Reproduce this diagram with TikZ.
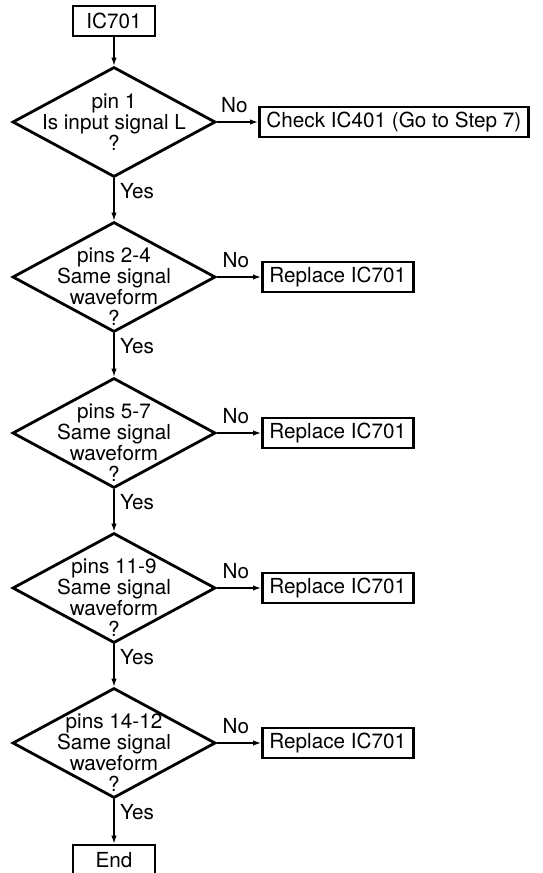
\documentclass[tikz,border=0pt]{standalone}
\usepackage{fontspec}
\setmainfont{TeX Gyre Heros}
\usetikzlibrary{shapes.geometric,arrows.meta}
\tikzset{
  every node/.style={font=\fontsize{20.7}{21}\selectfont},
  box/.style={draw, line width=2.8pt, inner xsep=7pt, inner ysep=0pt, minimum height=30pt},
  endbox/.style={box, minimum width=82pt},
  dia/.style={draw, diamond, line width=2.8pt, minimum width=203pt, minimum height=110pt, inner sep=0pt},
  dtext/.style={align=center, inner sep=0pt},
  arr/.style={-{Latex[length=8pt,width=5.5pt]}, line width=1.3pt},
  lab/.style={inner sep=0pt}
}
\begin{document}
\begin{tikzpicture}[x=1pt,y=-1pt]
\useasboundingbox (0,0) rectangle (542,873);
\node[endbox] (ic) at (114,21) {IC701};
\node[dia] (d1) at (114,122) {};
\node[dtext] (t1) at (114,122) {pin 1\\Is input signal L\\?};
\node[dia] (d2) at (114,277) {};
\node[dtext] (t2) at (114,287) {pins 2-4\\Same signal\\waveform\\?};
\node[dia] (d3) at (114,433) {};
\node[dtext] (t3) at (114,443) {pins 5-7\\Same signal\\waveform\\?};
\node[dia] (d4) at (114,588) {};
\node[dtext] (t4) at (114,598) {pins 11-9\\Same signal\\waveform\\?};
\node[dia] (d5) at (114,743) {};
\node[dtext] (t5) at (114,753) {pins 14-12\\Same signal\\waveform\\?};
\node[endbox] (end) at (114,860) {End};
\node[box, anchor=west] (c1) at (258,122) {Check IC401 (Go to Step 7)};
\node[box, anchor=west] (r2) at (261,277) {Replace IC701};
\node[box, anchor=west] (r3) at (261,433) {Replace IC701};
\node[box, anchor=west] (r4) at (261,588) {Replace IC701};
\node[box, anchor=west] (r5) at (261,743) {Replace IC701};
\draw[arr] (ic) -- (d1);
\draw[arr] (d1.south) -- (d2.north);
\draw[arr] (d2.south) -- (d3.north);
\draw[arr] (d3.south) -- (d4.north);
\draw[arr] (d4.south) -- (d5.north);
\draw[arr] (d5.south) -- (end.north);
\foreach \a/\b in {d1/c1,d2/r2,d3/r3,d4/r4,d5/r5}{
  \draw[arr] (\a.east) -- (\b.west) node[lab, midway, anchor=south, yshift=9pt, xshift=-3pt] (no\a) {No};
  \node[lab, anchor=north west] (yes\a) at ([xshift=6pt,yshift=-5pt]\a.south) {Yes};
}
\end{tikzpicture}
\end{document}
